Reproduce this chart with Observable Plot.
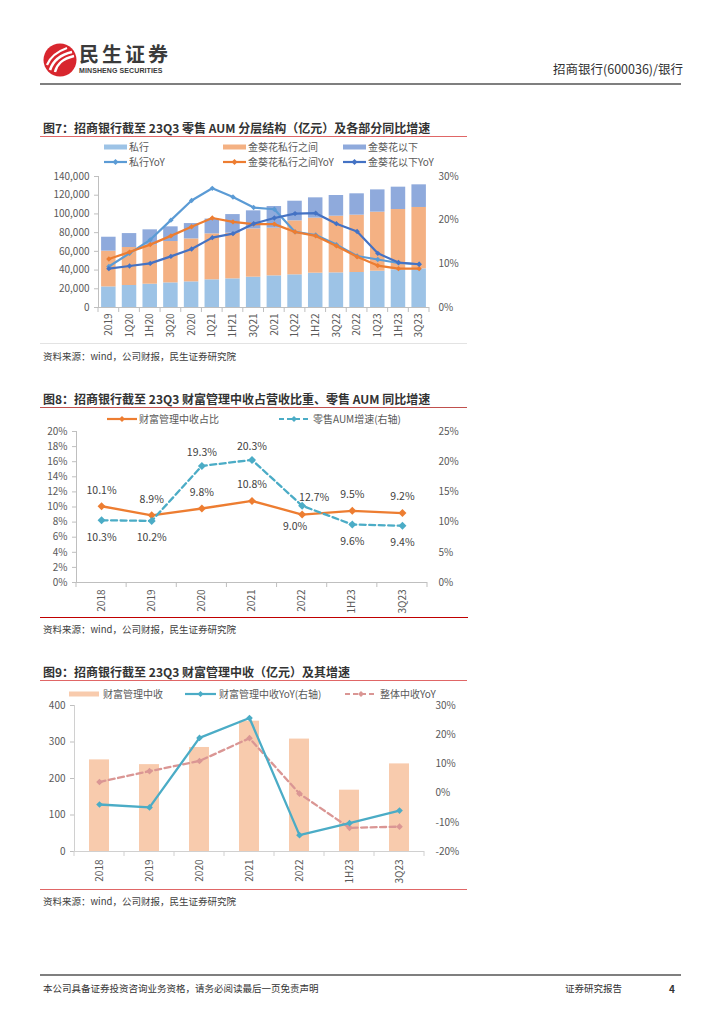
<!DOCTYPE html>
<html><head><meta charset="utf-8">
<script src="https://cdn.jsdelivr.net/npm/d3@7"></script>
<script src="https://cdn.jsdelivr.net/npm/@observablehq/plot@0.6"></script>
<style>
body{margin:0;background:#fff;}
#page{position:relative;width:724px;height:1024px;overflow:hidden;font-family:"Noto Sans CJK SC","Noto Sans",sans-serif;color:#333;}
.t{position:absolute;white-space:nowrap;line-height:1;}
.hl{position:absolute;}
</style></head><body><div id="page"></div>
<script>
// ---------- DATA ----------
const periods7 = ["2019","1Q20","1H20","3Q20","2020","1Q21","1H21","3Q21","2021","1Q22","1H22","3Q22","2022","1Q23","1H23","3Q23"];
const segments7 = ["私行","金葵花私行之间","金葵花以下"];
const lineNames7 = ["私行YoY","金葵花私行之间YoY","金葵花以下YoY"];
const private7 = [22000,23500,24900,26300,27400,29600,30600,32400,33800,34900,36700,37000,37400,38800,40300,41300];
const mid7 = [38200,40600,41700,44200,45900,49100,48800,51600,51000,57700,58800,60600,61300,63100,64400,65600];
const lower7 = [14900,14900,16400,15700,16400,15800,19900,19300,23100,21000,21700,22100,22800,23800,23900,24200];
const privateYoY7 = [9.4,12.4,15.5,20.0,24.5,27.3,25.3,22.9,22.5,17.3,16.6,14.4,11.8,11.0,10.2,9.9];
const midYoY7 = [11.1,12.7,14.4,16.4,18.5,20.5,19.6,19.1,19.1,17.3,16.4,14.1,11.6,9.6,8.9,8.9];
const lowerYoY7 = [8.9,9.5,10.1,11.7,13.4,16.0,16.9,19.2,20.5,21.5,21.6,19.2,17.4,12.4,10.3,9.9];
const leftTicks7 = [0,20000,40000,60000,80000,100000,120000,140000];
const rightTicks7 = [0,10,20,30];

const periods8 = ["2018","2019","2020","2021","2022","1H23","3Q23"];
const seriesNames8 = ["财富管理中收占比","零售AUM增速(右轴)"];
const wealthShare8 = [10.1,8.9,9.8,10.8,9.0,9.5,9.2];
const aumGrowth8 = [10.3,10.2,19.3,20.3,12.7,9.6,9.4];
const leftTicks8 = [0,2,4,6,8,10,12,14,16,18,20];
const rightTicks8 = [0,5,10,15,20,25];

const periods9 = ["2018","2019","2020","2021","2022","1H23","3Q23"];
const seriesNames9 = ["财富管理中收","财富管理中收YoY(右轴)","整体中收YoY"];
const wealthIncome9 = [251,238,285,357,308,168,240];
const wealthYoY9 = [-3.9,-4.9,18.9,25.7,-14.4,-10.3,-6.0];
const totalFeeYoY9 = [3.8,7.5,11.0,18.8,-0.2,-11.9,-11.5];
const leftTicks9 = [0,100,200,300,400];
const rightTicks9 = [-20,-10,0,10,20,30];

const headerRight = "招商银行(600036)/银行";
const title7 = "图7：招商银行截至 23Q3 零售 AUM 分层结构（亿元）及各部分同比增速";
const title8 = "图8：招商银行截至 23Q3 财富管理中收占营收比重、零售 AUM 同比增速";
const title9 = "图9：招商银行截至 23Q3 财富管理中收（亿元）及其增速";
const sourceText = "资料来源：wind，公司财报，民生证券研究院";
const footerLeft = "本公司具备证券投资咨询业务资格，请务必阅读最后一页免责声明";
const footerMid = "证券研究报告";
const pageNo = "4";

// ---------- HELPERS ----------
const page = document.getElementById("page");
const FONT = '"Noto Sans CJK SC","Noto Sans",sans-serif';
function addText(txt, x, cy, size, style = {}) {
  const d = document.createElement("div");
  d.className = "t"; d.textContent = txt;
  d.style.left = x + "px"; d.style.top = (cy - size * 0.55) + "px"; d.style.fontSize = size + "px";
  Object.assign(d.style, style);
  page.appendChild(d); return d;
}
function addRule(x1, x2, y, color, w) {
  const d = document.createElement("div");
  d.className = "hl";
  Object.assign(d.style, {left: x1 + "px", width: (x2 - x1) + "px", top: (y - w / 2) + "px", height: w + "px", background: color});
  page.appendChild(d);
}
function addSwatch(x, cy, w, kind, color, dash) {
  const ns = "http://www.w3.org/2000/svg";
  const s = document.createElementNS(ns, "svg");
  s.setAttribute("width", w); s.setAttribute("height", 12);
  Object.assign(s.style, {position: "absolute", left: x + "px", top: (cy - 6) + "px"});
  if (kind === "rect") {
    s.innerHTML = `<rect x="0" y="3.5" width="${w}" height="5" fill="${color}"/>`;
  } else {
    const m = w / 2;
    s.innerHTML = `<line x1="0" x2="${w}" y1="6" y2="6" stroke="${color}" stroke-width="2.2" ${dash ? `stroke-dasharray="${dash}"` : ""}/>` +
      `<path d="M${m} 3 L${m + 3} 6 L${m} 9 L${m - 3} 6 Z" fill="${color}"/>`;
  }
  page.appendChild(s);
}
function mount(svg, left, top) {
  Object.assign(svg.style, {position: "absolute", left: left + "px", top: top + "px", overflow: "visible", background: "transparent"});
  page.appendChild(svg);
}
function decorate(svg, n, color) {
  const xs = svg.scale("x"), ys = svg.scale("y");
  const [x0, x1] = xs.range; const [yb, yt] = ys.range;
  const step = (x1 - x0) / n;
  const g = d3.select(svg).append("g").attr("stroke", color).attr("stroke-width", 1);
  g.append("line").attr("x1", x0 + 0.5).attr("x2", x0 + 0.5).attr("y1", yt).attr("y2", yb);
  for (let i = 0; i <= n; i++) {
    g.append("line").attr("x1", x0 + i * step).attr("x2", x0 + i * step).attr("y1", yb).attr("y2", yb + 5);
  }
}
const baseStyle = {fontFamily: FONT, fontSize: "10px", color: "#595959", background: "transparent", overflow: "visible"};

// ---------- HEADER ----------
{
  const ns = "http://www.w3.org/2000/svg";
  const logo = document.createElementNS(ns, "svg");
  logo.setAttribute("width", 34); logo.setAttribute("height", 34);
  Object.assign(logo.style, {position: "absolute", left: "43px", top: "43px"});
  logo.innerHTML = `<circle cx="17" cy="17" r="16.5" fill="#D8262E"/>
   <path d="M7 27 C 10 18, 16 12, 29 9" stroke="#fff" stroke-width="2.6" fill="none"/>
   <path d="M12 29 C 14 21, 19 16, 31 13" stroke="#fff" stroke-width="2.4" fill="none"/>
   <path d="M4 22 C 7 14, 13 9, 24 5" stroke="#fff" stroke-width="2.2" fill="none"/>`;
  page.appendChild(logo);
  addText("民生证券", 79, 55, 20, {fontWeight: "bold", color: "#3a3a3a", letterSpacing: "3px"});
  addText("MINSHENG SECURITIES", 79, 71, 7, {fontWeight: "bold", color: "#3a3a3a", fontFamily: '"Liberation Sans",Arial,sans-serif', letterSpacing: "0.1px"});
  addText(headerRight, 553, 70, 12.5, {color: "#333"});
  addRule(40, 681, 84, "#7f7f7f", 1.5);
}

// ---------- CHART 7 ----------
addText(title7, 43, 129, 12, {fontWeight: "bold", color: "#333"});
addRule(40, 467, 136.5, "#E06666", 1);
{
  const barColors = ["#9DC3E6", "#F4B183", "#8FAADC"];
  const lineColors = ["#5B9BD5", "#ED7D31", "#4472C4"];
  const xs = [104, 223, 343];
  segments7.forEach((s, i) => { addSwatch(xs[i], 147, 23, "rect", barColors[i]); addText(s, xs[i] + 25, 147, 10, {color: "#595959"}); });
  lineNames7.forEach((s, i) => { addSwatch(xs[i], 162, 23, "line", lineColors[i]); addText(s, xs[i] + 25, 162, 10, {color: "#595959"}); });

  const Y = 140000, R = 30, toL = v => v / R * Y;
  const stack = periods7.flatMap((p, i) => [
    {p, s: segments7[0], v: private7[i]}, {p, s: segments7[1], v: mid7[i]}, {p, s: segments7[2], v: lower7[i]}]);
  const series = [privateYoY7, midYoY7, lowerYoY7];
  const lineMarks = series.flatMap((vals, k) => {
    const d = periods7.map((p, i) => ({p, v: toL(vals[i])}));
    return [Plot.line(d, {x: "p", y: "v", stroke: lineColors[k], strokeWidth: 2.2}),
            Plot.dot(d, {x: "p", y: "v", fill: lineColors[k], symbol: "diamond2", r: 2.4})];
  });
  const c7 = Plot.plot({
    width: 440, height: 175, marginLeft: 58, marginRight: 51, marginTop: 8, marginBottom: 36,
    style: baseStyle,
    x: {type: "band", domain: periods7, paddingInner: 0.3, paddingOuter: 0.15, round: false, label: null, axis: null},
    y: {domain: [0, Y], label: null, axis: null},
    color: {domain: segments7, range: barColors},
    marks: [
      Plot.barY(stack, {x: "p", y: "v", fill: "s"}),
      Plot.ruleY([0], {stroke: "#bfbfbf"}),
      ...lineMarks,
      Plot.axisY({ticks: leftTicks7, tickFormat: d3.format(","), tickSize: 4, tickPadding: 5, stroke: "#bfbfbf", fill: "#595959", label: null}),
      Plot.axisY({anchor: "right", ticks: rightTicks7.map(toL), tickFormat: d => Math.round(d / Y * R) + "%", tickSize: 0, tickPadding: 9, fill: "#595959", label: null}),
      Plot.axisX({tickRotate: -90, tickSize: 0, tickPadding: 6, fill: "#595959", label: null})
    ]
  });
  decorate(c7, periods7.length, "#bfbfbf");
  mount(c7, 40, 168);
}
addRule(40, 467, 343.5, "#e3e3e3", 1);
addText(sourceText, 43, 357, 9.5, {color: "#404040"});

// ---------- CHART 8 ----------
addText(title8, 43, 400, 12, {fontWeight: "bold", color: "#333"});
addRule(40, 467, 407.5, "#C0504D", 1);
{
  const cOr = "#ED7D31", cBl = "#4BACC6";
  addSwatch(107, 419, 30, "line", cOr); addText(seriesNames8[0], 139, 419, 10, {color: "#595959"});
  addSwatch(279, 419, 30, "line", cBl, "5,3"); addText(seriesNames8[1], 313, 419, 10, {color: "#595959"});
  const k = 20 / 25, toL = v => v * k;
  const share = periods8.map((p, i) => ({p, v: wealthShare8[i], lab: wealthShare8[i].toFixed(1) + "%"}));
  const aum = periods8.map((p, i) => ({p, v: toL(aumGrowth8[i]), lab: aumGrowth8[i].toFixed(1) + "%"}));
  const sharePlace = ["t", "t", "t", "t", "bl", "t", "t"];
  const aumPlace = ["b", "b", "t", "t", "tr", "b", "b"];
  const off = {t: [0, -16], b: [0, 17], bl: [-7, 12], tr: [12, -8], t2: [0, -13]};
  const textMarks = (data, place, tOff) => Object.entries({t: tOff, b: off.b, bl: off.bl, tr: off.tr}).map(([key, [dx, dy]]) =>
    Plot.text(data.filter((d, i) => place[i] === key), {x: "p", y: "v", text: "lab", dx, dy, fill: "#404040", fontSize: 10.5}));
  const c8 = Plot.plot({
    width: 450, height: 191, marginLeft: 46, marginRight: 53, marginTop: 6, marginBottom: 34,
    style: baseStyle,
    x: {type: "band", domain: periods8, padding: 0, round: false, label: null, axis: null},
    y: {domain: [0, 20], label: null, axis: null},
    marks: [
      Plot.ruleY([0], {stroke: "#bfbfbf"}),
      Plot.line(share, {x: "p", y: "v", stroke: cOr, strokeWidth: 2.3}),
      Plot.dot(share, {x: "p", y: "v", fill: cOr, symbol: "diamond2", r: 3.6}),
      Plot.line(aum, {x: "p", y: "v", stroke: cBl, strokeWidth: 2.3, strokeDasharray: "6,3.5"}),
      Plot.dot(aum, {x: "p", y: "v", fill: cBl, symbol: "diamond2", r: 3.6}),
      ...textMarks(share, sharePlace, off.t),
      ...textMarks(aum, aumPlace, off.t2),
      Plot.axisY({ticks: leftTicks8, tickFormat: d => d + "%", tickSize: 4, tickPadding: 5, stroke: "#bfbfbf", fill: "#595959", label: null}),
      Plot.axisY({anchor: "right", ticks: rightTicks8.map(toL), tickFormat: d => Math.round(d / k) + "%", tickSize: 0, tickPadding: 11, fill: "#595959", label: null}),
      Plot.axisX({tickRotate: -90, tickSize: 0, tickPadding: 7, fill: "#595959", label: null})
    ]
  });
  decorate(c8, periods8.length, "#bfbfbf");
  mount(c8, 30, 425);
}
addRule(40, 468, 617.5, "#C00000", 1.2);
addText(sourceText, 43, 630, 9.5, {color: "#404040"});

// ---------- CHART 9 ----------
addText(title9, 43, 673, 12, {fontWeight: "bold", color: "#333"});
addRule(40, 467, 680.5, "#E06666", 1);
{
  const cBar = "#F8CBAD", cBl = "#4BACC6", cPk = "#DA9694";
  addSwatch(69, 694, 30, "rect", cBar); addText(seriesNames9[0], 103, 694, 10, {color: "#595959"});
  addSwatch(185, 694, 31, "line", cBl); addText(seriesNames9[1], 219, 694, 10, {color: "#595959"});
  addSwatch(345, 694, 32, "line", cPk, "5,3"); addText(seriesNames9[2], 380, 694, 10, {color: "#595959"});
  const Y = 400, toL = p => (p + 20) / 50 * Y;
  const bars = periods9.map((p, i) => ({p, v: wealthIncome9[i]}));
  const wy = periods9.map((p, i) => ({p, v: toL(wealthYoY9[i])}));
  const ty = periods9.map((p, i) => ({p, v: toL(totalFeeYoY9[i])}));
  const c9 = Plot.plot({
    width: 450, height: 189, marginLeft: 44, marginRight: 56, marginTop: 7, marginBottom: 36,
    style: baseStyle,
    x: {type: "band", domain: periods9, paddingInner: 0.6, paddingOuter: 0.3, round: false, label: null, axis: null},
    y: {domain: [0, Y], label: null, axis: null},
    marks: [
      Plot.barY(bars, {x: "p", y: "v", fill: cBar}),
      Plot.ruleY([0], {stroke: "#d0d0d0"}),
      Plot.line(ty, {x: "p", y: "v", stroke: cPk, strokeWidth: 2.3, strokeDasharray: "6,3.5"}),
      Plot.dot(ty, {x: "p", y: "v", fill: cPk, symbol: "diamond2", r: 3}),
      Plot.line(wy, {x: "p", y: "v", stroke: cBl, strokeWidth: 2.3}),
      Plot.dot(wy, {x: "p", y: "v", fill: cBl, symbol: "diamond2", r: 3}),
      Plot.axisY({ticks: leftTicks9, tickSize: 4, tickPadding: 5, stroke: "#bfbfbf", fill: "#595959", label: null}),
      Plot.axisY({anchor: "right", ticks: rightTicks9.map(toL), tickFormat: d => Math.round(d / Y * 50 - 20) + "%", tickSize: 0, tickPadding: 11, fill: "#595959", label: null}),
      Plot.axisX({tickRotate: -90, tickSize: 0, tickPadding: 8, fill: "#595959", label: null})
    ]
  });
  decorate(c9, periods9.length, "#d0d0d0");
  mount(c9, 30, 698);
}
addRule(40, 467, 889.5, "#E06666", 1);
addText(sourceText, 43, 902, 9.5, {color: "#404040"});

// ---------- FOOTER ----------
addRule(40, 681, 975, "#7f7f7f", 1.5);
addText(footerLeft, 43, 989, 9.5, {color: "#333"});
addText(footerMid, 565, 989, 9.5, {color: "#333"});
addText(pageNo, 669, 989, 10, {color: "#333", fontWeight: "bold"});
</script></body></html>
